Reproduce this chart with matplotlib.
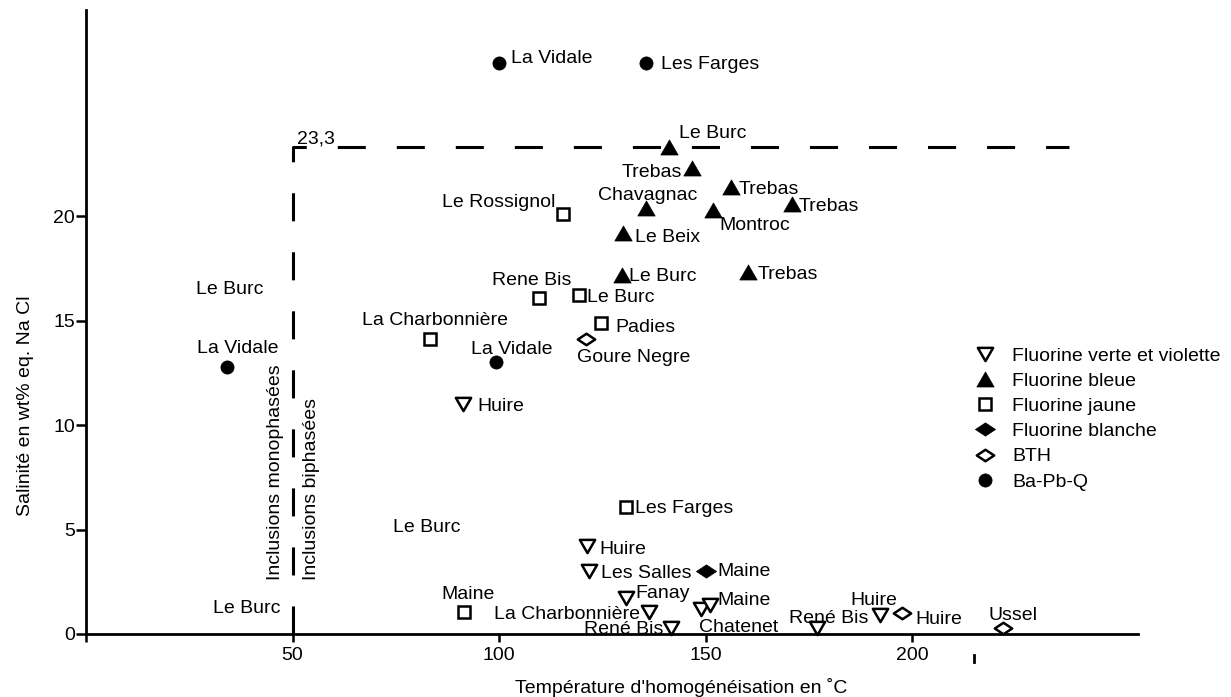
import matplotlib
matplotlib.use("Agg")
import matplotlib.pyplot as plt
from matplotlib.path import Path
from matplotlib.transforms import ScaledTranslation

plt.rcParams['font.family'] = ['Liberation Sans', 'DejaVu Sans']
plt.rcParams['lines.scale_dashes'] = False

# ---------------- data ----------------
verte_x = [91.3, 121.3, 121.8, 130.8, 136.3, 141.6, 148.9, 151.1, 177.0, 192.3]
verte_y = [11.0, 4.2, 3.0, 1.7, 1.05, 0.3, 1.2, 1.4, 0.3, 0.9]

bleue_x = [141.2, 146.7, 156.2, 171.0, 135.6, 151.8, 130.0, 129.8, 160.3]
bleue_y = [23.3, 22.3, 21.4, 20.6, 20.4, 20.3, 19.2, 17.2, 17.3]

jaune_x = [115.5, 109.7, 119.4, 124.7, 83.3, 130.8, 91.5]
jaune_y = [20.1, 16.1, 16.2, 14.9, 14.1, 6.1, 1.05]

blanche_x = [150.1]
blanche_y = [3.0]

bth_x = [121.0, 197.6, 222.0]
bth_y = [14.1, 1.0, 0.3]

bapbq_x = [100.0, 135.6, 34.1, 99.3]
bapbq_y = [27.3, 27.3, 12.8, 13.0]

series_names = ["Fluorine verte et violette", "Fluorine bleue", "Fluorine jaune",
                "Fluorine blanche", "BTH", "Ba-Pb-Q"]

# site labels: text, x, y, horizontal alignment
label_text = ["La Vidale", "Les Farges", "Le Burc", "Trebas", "Trebas", "Trebas",
              "Chavagnac", "Montroc", "Le Beix", "Le Burc", "Trebas",
              "Le Rossignol", "Rene Bis", "Le Burc", "Padies", "La Charbonnière",
              "La Vidale", "Goure Negre", "Huire", "Les Farges", "Le Burc",
              "Huire", "Les Salles", "Maine", "Fanay", "Maine", "La Charbonnière",
              "Maine", "René Bis", "Chatenet", "René Bis", "Huire", "Huire", "Ussel",
              "Le Burc", "Le Burc", "La Vidale"]
label_x = [102.9, 139.2, 143.6, 144.3, 157.9, 172.6,
           124.0, 153.3, 132.9, 131.5, 162.5,
           86.2, 98.3, 121.3, 128.1, 102.2,
           93.2, 118.9, 94.7, 132.9, 74.3,
           124.2, 124.7, 152.8, 132.9, 86.0, 98.8,
           152.8, 120.6, 148.4, 189.3, 185.0, 200.7, 218.6,
           30.7, 26.6, 26.9]
label_y = [27.66, 27.37, 24.07, 22.2, 21.39, 20.6,
           21.1, 19.67, 19.09, 17.22, 17.32,
           20.77, 17.03, 16.22, 14.78, 15.12,
           13.73, 13.35, 11.0, 6.12, 5.2,
           4.16, 3.01, 3.11, 2.06, 2.0, 1.05,
           1.72, 0.33, 0.43, 0.86, 1.72, 0.81, 1.0,
           1.34, 16.6, 13.78]
label_ha = ["left", "left", "left", "right", "left", "left",
            "left", "left", "left", "left", "left",
            "left", "left", "left", "left", "right",
            "left", "left", "left", "left", "left",
            "left", "left", "left", "left", "left", "left",
            "left", "left", "left", "right", "left", "left", "left",
            "left", "left", "left"]

saturation = 23.3
phase_limit = 50
dash_end = 238
x_ticks = [0, 50, 100, 150, 200]
x_ticklabels = ["", "50", "100", "150", "200"]
y_ticks = [0, 5, 10, 15, 20]
y_ticklabels = ["0", "5", "10", "15", "20"]

# ---------------- figure ----------------
W, H = 1231, 697
fig = plt.figure(figsize=(W / 100, H / 100), dpi=100)
ax = fig.add_axes([86 / W, 63 / H, 1052 / W, 624 / H])
ax.set_xlim(0, 254.7)
ax.set_ylim(0, 29.86)

for s in ["top", "right"]:
    ax.spines[s].set_visible(False)
for s in ["left", "bottom"]:
    ax.spines[s].set_linewidth(2.0)

fs = 14
ax.set_xticks(x_ticks)
ax.set_xticklabels(x_ticklabels)
ax.set_yticks(y_ticks)
ax.set_yticklabels(y_ticklabels)
ax.tick_params(axis="x", direction="out", length=5.5, width=1.8, pad=4, labelsize=fs)
ax.tick_params(axis="y", direction="out", length=7, width=1.8, pad=1, labelsize=fs)

# dashed limits
ax.plot([phase_limit, phase_limit, dash_end], [0, saturation, saturation],
        color="black", lw=2.2, linestyle=(0, (20.2, 22.3)), zorder=1,
        solid_capstyle="butt", dash_capstyle="butt")

# markers
tri_up = Path([(-1, -0.866), (1, -0.866), (0, 0.866), (-1, -0.866)],
              [Path.MOVETO, Path.LINETO, Path.LINETO, Path.CLOSEPOLY])
tri_dn = Path([(-1, 0.866), (1, 0.866), (0, -0.866), (-1, 0.866)],
              [Path.MOVETO, Path.LINETO, Path.LINETO, Path.CLOSEPOLY])
diam = Path([(-1, 0), (0, 0.66), (1, 0), (0, -0.66), (-1, 0)],
            [Path.MOVETO, Path.LINETO, Path.LINETO, Path.LINETO, Path.CLOSEPOLY])

kw = dict(linestyle="none", color="black", zorder=3, clip_on=False)
ax.plot(verte_x, verte_y, marker=tri_dn, markersize=11, markerfacecolor="white",
        markeredgewidth=1.8, label=series_names[0], **kw)
ax.plot(bleue_x, bleue_y, marker=tri_up, markersize=12.5, markerfacecolor="black",
        markeredgewidth=0.5, label=series_names[1], **kw)
ax.plot(jaune_x, jaune_y, marker="s", markersize=9, markerfacecolor="white",
        markeredgewidth=1.8, label=series_names[2], **kw)
ax.plot(blanche_x, blanche_y, marker=diam, markersize=14.5, markerfacecolor="black",
        markeredgewidth=0.5, label=series_names[3], **kw)
ax.plot(bth_x, bth_y, marker=diam, markersize=12.5, markerfacecolor="white",
        markeredgewidth=1.8, label=series_names[4], **kw)
ax.plot(bapbq_x, bapbq_y, marker="o", markersize=9.5, markerfacecolor="black",
        markeredgewidth=0.5, label=series_names[5], **kw)

shift = ax.transData + ScaledTranslation(0, -1.8 / 72, fig.dpi_scale_trans)
for t, x, y, ha in zip(label_text, label_x, label_y, label_ha):
    ax.text(x, y, t, ha=ha, va="center", fontsize=fs, zorder=4, transform=shift)

ax.text(51.1, 23.83, "23,3", ha="left", va="center", fontsize=fs, transform=shift)
ax.text(46.0, 2.58, "Inclusions monophasées", rotation=90, ha="center", va="bottom", fontsize=fs)
ax.text(54.5, 2.58, "Inclusions biphasées", rotation=90, ha="center", va="bottom", fontsize=fs)

# stray tick mark below the axis
ax.plot([215, 215], [-1.0, -1.35], color="black", lw=2.0, clip_on=False)

ax.text(144, -2.55, "Température d'homogénéisation en ˚C", ha="center", va="center", fontsize=fs)
ax.text(-14.7, 10.9, "Salinité en wt% eq. Na Cl", rotation=90, ha="center", va="center", fontsize=fs)

leg = ax.legend(loc="upper left", bbox_to_anchor=(975.3 / W, 1 - 347 / H),
                bbox_transform=fig.transFigure, frameon=False, fontsize=fs,
                handlelength=1.0, handletextpad=0.89, borderpad=0, borderaxespad=0,
                labelspacing=0.39, numpoints=1)

fig.savefig("out.png", dpi=100)
